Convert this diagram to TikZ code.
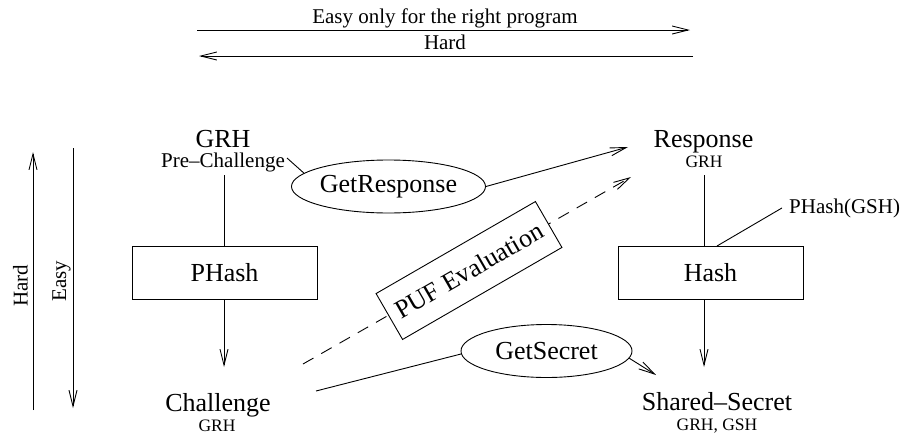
\documentclass[tikz,border=0pt]{standalone}
\usepackage{fontspec}
\setmainfont{Liberation Serif}
\usetikzlibrary{arrows.meta,shapes.geometric}
\tikzset{
  big/.style={font=\fontsize{26}{30}\selectfont, inner sep=0pt},
  med/.style={font=\fontsize{21}{25}\selectfont, inner sep=0pt},
  sml/.style={font=\fontsize{17.5}{20}\selectfont, inner sep=0pt},
  conn/.style={line width=0.9pt},
  arr/.style={conn, -{Straight Barb[length=16pt,width=8pt,line width=0.9pt]}},
  boxnode/.style={draw, line width=0.9pt, minimum width=185pt, minimum height=53pt, inner sep=0pt, font=\fontsize{26}{30}\selectfont},
  ellnode/.style={draw, ellipse, line width=0.9pt, minimum width=171pt, minimum height=53pt, inner sep=0pt, font=\fontsize{26}{30}\selectfont},
}
\begin{document}
\begin{tikzpicture}[x=1pt,y=-1pt]
\useasboundingbox (0,0) rectangle (906,437);
% top arrows
\node[med, anchor=base] (easytop) at (445,23) {Easy only for the right program};
\node[med, anchor=base] (hardtop) at (445,49.5) {Hard};
\coordinate (e1) at (197,30); \coordinate (e2) at (690,30);
\coordinate (h1) at (693,56); \coordinate (h2) at (199,56);
\draw[arr] (e1) -- (e2);
\draw[arr] (h1) -- (h2);
% left arrows
\coordinate (ha1) at (33,410); \coordinate (ha2) at (33,152);
\coordinate (ea1) at (73,148); \coordinate (ea2) at (73,408);
\draw[arr] (ha1) -- (ha2);
\draw[arr] (ea1) -- (ea2);
\node[med, rotate=90, anchor=base] (hardleft) at (27.5,286) {Hard};
\node[med, rotate=90, anchor=base] (easyleft) at (66,281) {Easy};
% left column
\node[big, anchor=base] (grh) at (223,147) {GRH};
\node[med, anchor=base] (prech) at (223,167) {Pre--Challenge};
\node[boxnode] (phash) at (224.5,272.5) {PHash};
\coordinate (ltop) at (224,175);
\coordinate (lbot) at (224,367);
\draw[conn] (ltop) -- (ltop |- phash.north);
\draw[arr] (ltop |- phash.south) -- (lbot);
\node[big, anchor=base] (chal) at (218,411) {Challenge};
\node[sml, anchor=base] (chgrh) at (217,431) {GRH};
% right column
\node[big, anchor=base] (resp) at (703.5,147) {Response};
\node[sml, anchor=base] (rsgrh) at (704,167) {GRH};
\node[boxnode] (hash) at (710.5,272.5) {Hash};
\coordinate (rtop) at (704,175);
\coordinate (rbot) at (704,367);
\draw[conn] (rtop) -- (rtop |- hash.north);
\draw[arr] (rtop |- hash.south) -- (rbot);
\node[med, anchor=base west, inner xsep=7pt] (phg) at (782,213) {PHash(GSH)};
\coordinate (hl) at (717,246);
\draw[conn] (hl) -- (phg.west);
\node[big, anchor=base] (ss) at (717,410) {Shared--Secret};
\node[sml, anchor=base] (ssg) at (717,430) {GRH, GSH};
% GetResponse
\node[ellnode] (gresp) at (388.5,186.5) {GetResponse};
\coordinate (prend) at (287,158);
\draw[conn] (prend) -- (gresp.171);
\coordinate (rtip) at (628,147);
\draw[arr] (gresp.east) -- (rtip);
% PUF evaluation
\coordinate (ds) at (303,364);
\coordinate (de) at (631,177);
\draw[arr, dashed, dash pattern=on 12pt off 9pt] (ds) -- (de);
\node[boxnode, fill=white, minimum width=184pt, minimum height=53pt, rotate=30] (puf) at (469,270.5) {PUF Evaluation};
% GetSecret
\node[ellnode] (gsec) at (546.5,351) {GetSecret};
\coordinate (cs) at (316,391);
\draw[conn] (cs) -- (gsec.182);
\coordinate (stip) at (656,375);
\draw[arr] (gsec.-5) -- (stip);
\end{tikzpicture}
\end{document}
